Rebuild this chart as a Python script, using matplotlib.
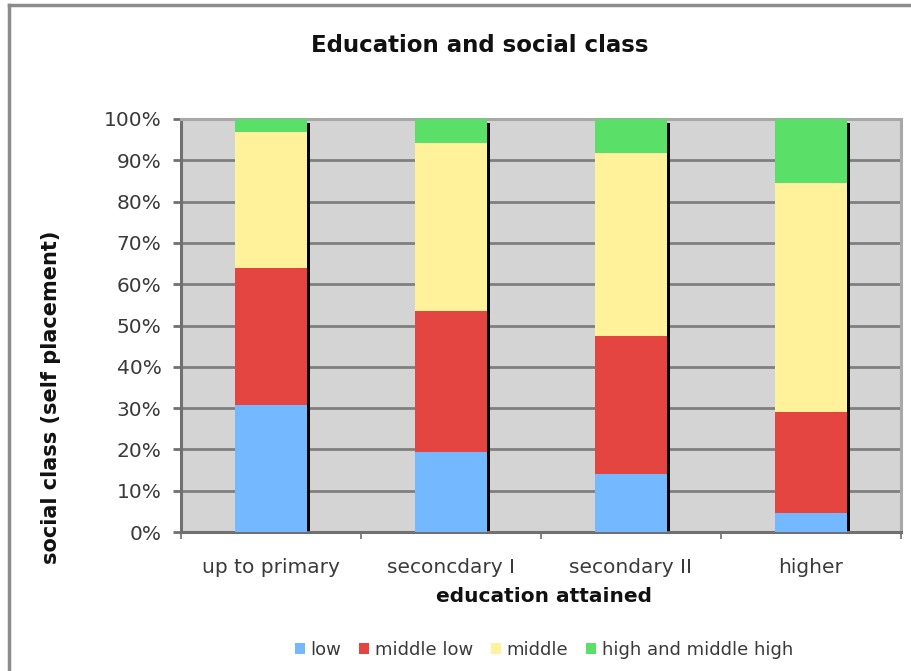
import matplotlib
matplotlib.use("Agg")
import matplotlib.pyplot as plt
import numpy as np
from matplotlib.ticker import PercentFormatter, FixedLocator
from matplotlib.lines import Line2D

categories = ["up to primary", "seconcdary I", "secondary II", "higher"]
series_names = ["low", "middle low", "middle", "high and middle high"]
low = [30.8, 19.4, 14.0, 4.7]
middle_low = [33.2, 34.2, 33.5, 24.3]
middle = [32.8, 40.7, 44.3, 55.4]
high = [3.2, 5.7, 8.2, 15.6]
colors = ["#74B8FF", "#E54540", "#FFF29A", "#5AE068"]

series = [low, middle_low, middle, high]

fig = plt.figure(figsize=(9.12, 6.71), dpi=100)
ax = fig.add_axes([181 / 912, 1 - 532 / 671, 720 / 912, 413 / 671])
ax.set_facecolor("#D4D4D4")

x = np.arange(len(categories))
width = 0.4
totals = np.sum(series, axis=0)

# drop shadow along the right side of each column
shadow_w = 3.5 / 180
ax.bar(x + width / 2 + shadow_w / 2, totals - 0.9, width=shadow_w,
       bottom=0, color="black", zorder=2, linewidth=0)

bottom = np.zeros(len(categories))
for vals, name, col in zip(series, series_names, colors):
    ax.bar(x, vals, width=width, bottom=bottom, color=col, label=name,
           zorder=3, linewidth=0)
    bottom += np.array(vals)

ax.set_xlim(-0.5, len(categories) - 0.5)
ax.set_ylim(0, 100)
ax.yaxis.set_major_locator(FixedLocator(np.arange(0, 101, 10)))
ax.yaxis.set_major_formatter(PercentFormatter(decimals=0))
ax.grid(axis="y", color="#7F7F7F", linewidth=2.0, zorder=1)
ax.set_axisbelow(True)

ax.set_xticks(x)
ax.set_xticklabels(categories)
ax.set_xticks(np.arange(-0.5, len(categories), 1.0), minor=True)
ax.tick_params(axis="x", which="major", length=0, pad=19,
               labelsize=14.5, labelcolor="#3A3A3A")
ax.tick_params(axis="x", which="minor", length=5, width=1.2,
               color="#707070", direction="out")
ax.tick_params(axis="y", length=6, width=2, color="#707070",
               pad=8, labelsize=14.5, labelcolor="#3A3A3A")

for side in ["left", "bottom"]:
    ax.spines[side].set_color("#707070")
    ax.spines[side].set_linewidth(2.2)
for side in ["top", "right"]:
    ax.spines[side].set_color("#A8A8A8")
    ax.spines[side].set_linewidth(2.2)

fig.text(480 / 912, 1 - 46 / 671, "Education and social class",
         ha="center", va="center", fontsize=16.5, fontweight="bold",
         color="#111111")
fig.text(544 / 912, 1 - 597 / 671, "education attained",
         ha="center", va="center", fontsize=14.5, fontweight="bold",
         color="#111111")
fig.text(51 / 912, 1 - 397 / 671, "social class (self placement)",
         ha="center", va="center", rotation=90, fontsize=15,
         fontweight="bold", color="#111111")

leg = fig.legend(loc="center", bbox_to_anchor=(544 / 912, 1 - 650 / 671),
                 ncol=4, frameon=False, fontsize=13, handlelength=0.55,
                 handleheight=0.55, handletextpad=0.3, columnspacing=1.0,
                 labelcolor="#3A3A3A")

# outer chart border
fig.add_artist(Line2D([9 / 912, 9 / 912], [0, 1 - 5 / 671],
                      transform=fig.transFigure, color="#8C8C8C", linewidth=2.5))
fig.add_artist(Line2D([9 / 912, 1], [1 - 5 / 671, 1 - 5 / 671],
                      transform=fig.transFigure, color="#8C8C8C", linewidth=2.5))

fig.savefig("out.png", dpi=100)
